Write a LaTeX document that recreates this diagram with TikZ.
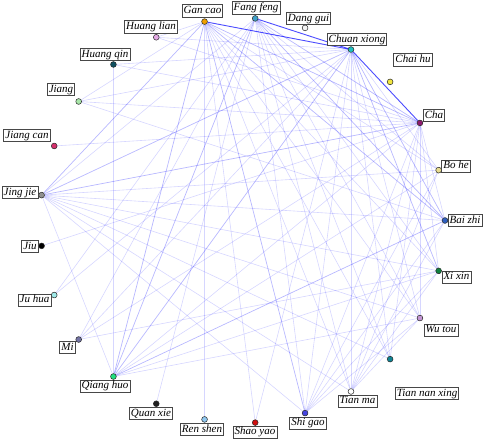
\documentclass[tikz,border=0pt]{standalone}
\usepackage{fontspec}
\setmainfont{Liberation Serif}
\usetikzlibrary{backgrounds}
\definecolor{cBaizhi}{HTML}{2F5FC0}
\definecolor{cBohe}{HTML}{E8DC90}
\definecolor{cCha}{HTML}{8E1B70}
\definecolor{cChaihu}{HTML}{F2E640}
\definecolor{cChuanxiong}{HTML}{20C0C0}
\definecolor{cDanggui}{HTML}{F4F4F4}
\definecolor{cFangfeng}{HTML}{3FA0C8}
\definecolor{cGancao}{HTML}{F0A000}
\definecolor{cHuanglian}{HTML}{E4A8E4}
\definecolor{cHuangqin}{HTML}{0F4F60}
\definecolor{cJiang}{HTML}{A8E6A8}
\definecolor{cJiangcan}{HTML}{D4306C}
\definecolor{cJingjie}{HTML}{909090}
\definecolor{cJiu}{HTML}{000000}
\definecolor{cJuhua}{HTML}{A0EAEA}
\definecolor{cMi}{HTML}{7474A4}
\definecolor{cQianghuo}{HTML}{20E080}
\definecolor{cQuanxie}{HTML}{202020}
\definecolor{cRenshen}{HTML}{90C8F0}
\definecolor{cShaoyao}{HTML}{D01010}
\definecolor{cShigao}{HTML}{4545E0}
\definecolor{cTianma}{HTML}{FFFFFF}
\definecolor{cTiannanxing}{HTML}{108494}
\definecolor{cWutou}{HTML}{C496D4}
\definecolor{cXixin}{HTML}{108040}
\begin{document}
\begin{tikzpicture}[x=1pt,y=-1pt,
  herb/.style={circle,draw=black!85,line width=0.5pt,minimum size=5.8pt,inner sep=0pt},
  lab/.style={draw=black!72,line width=0.8pt,fill=white,inner xsep=1.6pt,inner ysep=0.8pt,
    text height=8pt,text depth=2.6pt,font=\fontsize{11}{12}\selectfont\itshape},
  e1/.style={draw=blue,opacity=0.16,line width=0.6pt},
  e2/.style={draw=blue,opacity=0.28,line width=0.7pt},
  e3/.style={draw=blue,opacity=0.7,line width=0.9pt}]
\useasboundingbox (0,0) rectangle (484,441);
\foreach \nm/\col [count=\k from 0] in {baizhi/cBaizhi,bohe/cBohe,cha/cCha,chaihu/cChaihu,
  chuanxiong/cChuanxiong,danggui/cDanggui,fangfeng/cFangfeng,gancao/cGancao,
  huanglian/cHuanglian,huangqin/cHuangqin,jiang/cJiang,jiangcan/cJiangcan,jingjie/cJingjie,
  jiu/cJiu,juhua/cJuhua,mi/cMi,qianghuo/cQianghuo,quanxie/cQuanxie,renshen/cRenshen,
  shaoyao/cShaoyao,shigao/cShigao,tianma/cTianma,tiannanxing/cTiannanxing,wutou/cWutou,xixin/cXixin}
  \node[herb,fill=\col] (\nm) at ({242.5+202.5*cos(14.4*\k)},{220.5-202.5*sin(14.4*\k)}) {};

\begin{scope}[on background layer]
\foreach \a/\b in {gancao/bohe,gancao/xixin,gancao/wutou,gancao/tianma,gancao/renshen,
  gancao/tiannanxing,gancao/huanglian,gancao/jiang,gancao/shaoyao,
  chuanxiong/bohe,chuanxiong/wutou,chuanxiong/tianma,chuanxiong/shigao,chuanxiong/tiannanxing,
  chuanxiong/jiang,chuanxiong/huangqin,chuanxiong/juhua,chuanxiong/mi,chuanxiong/huanglian,
  chuanxiong/shaoyao,
  fangfeng/bohe,fangfeng/xixin,fangfeng/wutou,fangfeng/tianma,fangfeng/shigao,
  fangfeng/tiannanxing,fangfeng/jingjie,fangfeng/juhua,fangfeng/quanxie,fangfeng/mi,
  cha/baizhi,cha/xixin,cha/wutou,cha/tianma,cha/shigao,cha/qianghuo,cha/jiangcan,cha/mi,
  cha/tiannanxing,cha/huangqin,cha/huanglian,cha/jiu,cha/jiang,
  jingjie/bohe,jingjie/baizhi,jingjie/xixin,jingjie/wutou,jingjie/tiannanxing,jingjie/tianma,
  jingjie/shigao,jingjie/qianghuo,
  qianghuo/bohe,qianghuo/xixin,qianghuo/wutou,qianghuo/huangqin,
  baizhi/shigao,baizhi/tianma,baizhi/jiang,xixin/shigao,xixin/tianma,xixin/mi,
  bohe/shigao,bohe/tianma,wutou/shigao,wutou/tianma}
  \draw[e1] (\a) -- (\b);
\foreach \a/\b in {fangfeng/cha,gancao/cha,gancao/qianghuo,chuanxiong/qianghuo,
  fangfeng/qianghuo,jingjie/chuanxiong,jingjie/gancao,jingjie/cha,chuanxiong/baizhi,
  chuanxiong/xixin,gancao/baizhi,gancao/shigao,qianghuo/baizhi,fangfeng/baizhi}
  \draw[e2] (\a) -- (\b);
\foreach \a/\b in {gancao/chuanxiong,fangfeng/chuanxiong,chuanxiong/cha}
  \draw[e3] (\a) -- (\b);
\end{scope}

\node[lab] (l-baizhi) at (465,220.5) {Bai zhi};
\node[lab] (l-bohe) at (456,166) {Bo he};
\node[lab] (l-cha) at (434,115.5) {Cha};
\node[lab] (l-chaihu) at (413,60) {Chai hu};
\node[lab] (l-chuanxiong) at (357,39.5) {Chuan xiong};
\node[lab] (l-danggui) at (308.5,18.5) {Dang gui};
\node[lab] (l-fangfeng) at (256,8) {Fang feng};
\node[lab] (l-gancao) at (202.5,11) {Gan cao};
\node[lab] (l-huanglian) at (151,27) {Huang lian};
\node[lab] (l-huangqin) at (105,54.5) {Huang qin};
\node[lab] (l-jiang) at (61,89.5) {Jiang};
\node[lab] (l-jiangcan) at (27,135.5) {Jiang can};
\node[lab] (l-jingjie) at (20,192.5) {Jing jie};
\node[lab] (l-jiu) at (30,246.5) {Jiu};
\node[lab] (l-juhua) at (34.5,300) {Ju hua};
\node[lab] (l-mi) at (67.5,347.5) {Mi};
\node[lab] (l-qianghuo) at (105,386) {Qiang huo};
\node[lab] (l-quanxie) at (151,413.5) {Quan xie};
\node[lab] (l-renshen) at (202,429.5) {Ren shen};
\node[lab] (l-shaoyao) at (255,432) {Shao yao};
\node[lab] (l-shigao) at (308,423) {Shi gao};
\node[lab] (l-tianma) at (357.5,401) {Tian ma};
\node[lab] (l-tiannanxing) at (427,393.5) {Tian nan xing};
\node[lab] (l-wutou) at (441,330) {Wu tou};
\node[lab] (l-xixin) at (456.5,277) {Xi xin};
\end{tikzpicture}
\end{document}
